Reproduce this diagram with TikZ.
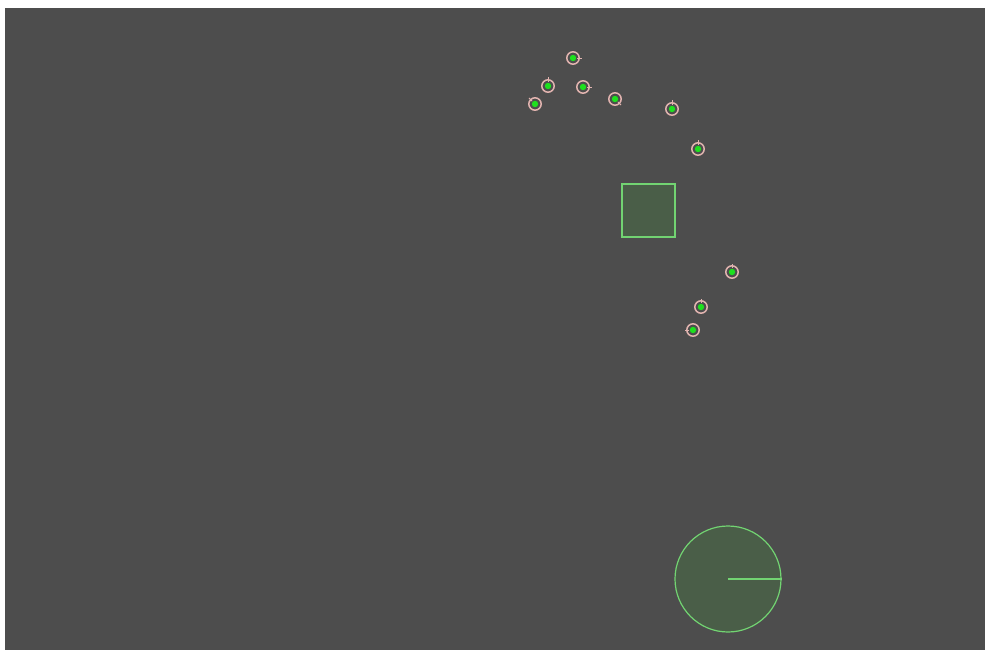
\documentclass[tikz,border=0pt]{standalone}
\usepackage{tikz}
\definecolor{bg}{HTML}{4D4D4D}
\definecolor{objfill}{HTML}{4A5E48}
\definecolor{objline}{HTML}{72D472}
\definecolor{pinkc}{HTML}{E2B4B0}
\definecolor{dotg}{HTML}{1EE01E}
\tikzset{
  obj/.style={draw=objline, fill=objfill, line width=1.2pt},
  ring/.style={draw=pinkc, line width=1.5pt},
  dotc/.style={fill=dotg},
}
\newcommand{\landmark}[4]{%
  \coordinate (#1) at (#2,#3);
  \fill[dotc] (#1) circle (3.2);
  \draw[ring] (#1) circle (6.2);
  \draw[ring, line width=0.9pt] (#1) ++(#4:4) -- ++(#4:4.5);
}
\begin{document}
\begin{tikzpicture}[x=1pt,y=-1pt]
\useasboundingbox (0,0) rectangle (985,650);
\fill[white] (0,0) rectangle (985,650);
\fill[bg] (5,8) rectangle (985,650);
\landmark{p1}{573}{58}{0}
\landmark{p2}{548}{86}{-90}
\landmark{p3}{583}{87}{0}
\landmark{p4}{535}{104}{-135}
\landmark{p5}{615}{99}{45}
\landmark{p6}{672}{109}{-90}
\landmark{p7}{698}{149}{-90}
\landmark{p8}{732}{272}{-90}
\landmark{p9}{701}{307}{-90}
\landmark{p10}{693}{330}{180}
\node[obj, minimum size=53pt, inner sep=0pt] (box) at (648.5,210.5) {};
\node[obj, circle, minimum size=106pt, inner sep=0pt] (robot) at (728,579) {};
\draw[objline, line width=1.2pt] (robot.center) -- (robot.east);
\end{tikzpicture}
\end{document}
